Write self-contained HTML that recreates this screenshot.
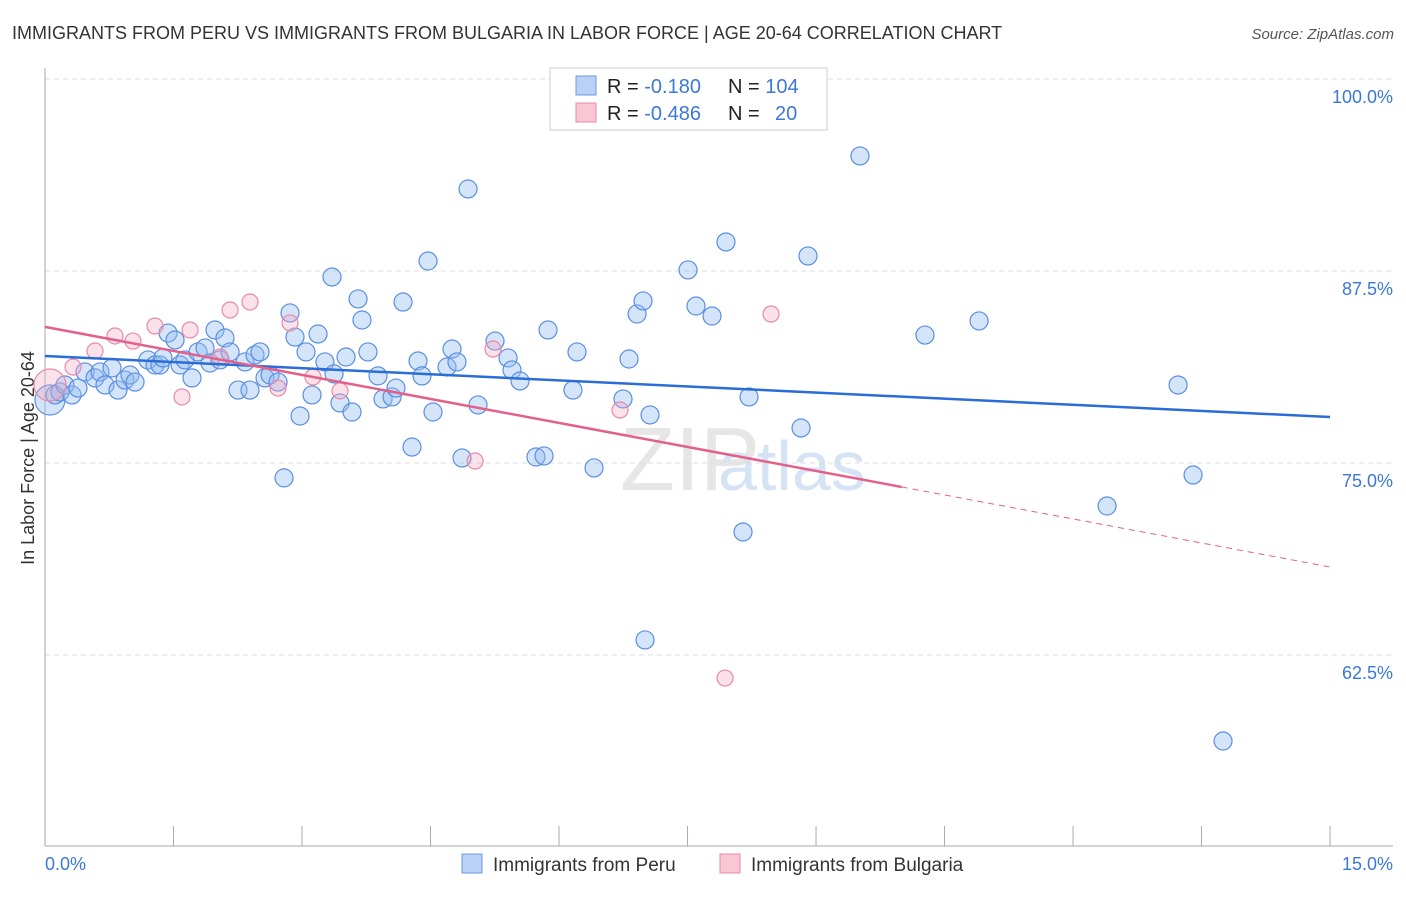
<!DOCTYPE html>
<html><head><meta charset="utf-8"><style>
body{margin:0;background:#fff;font-family:"Liberation Sans",sans-serif;}
svg text{font-family:"Liberation Sans",sans-serif;}
</style></head><body>
<svg id="c" width="1406" height="892">
<text x="12" y="39" font-size="18" fill="#333">IMMIGRANTS FROM PERU VS IMMIGRANTS FROM BULGARIA IN LABOR FORCE | AGE 20-64 CORRELATION CHART</text>
<text x="1394" y="39" font-size="15" fill="#555" text-anchor="end" font-style="italic">Source: ZipAtlas.com</text>
<text x="34" y="458" font-size="18" fill="#333" text-anchor="middle" transform="rotate(-90 34 458)">In Labor Force | Age 20-64</text>
<text x="620" y="490" font-size="90" fill="#e6e6e6" font-family="Liberation Serif">ZIP</text>
<text x="718" y="490" font-size="70" fill="#d6e3f5">atlas</text>
<g id="grid"></g><g id="pts"></g><g id="lines"></g>
</svg>
<script>
const xTicks=[0,15];
const yTicks=[100,87.5,75,62.5];
const peruX=[.058,.117,.175,.233,.315,.385,.467,.584,.642,.700,.782,.852,.934,.992,1.051,1.202,1.284,1.342,1.377,1.436,1.518,1.576,1.634,1.716,1.786,1.868,1.926,1.984,2.043,2.101,2.160,2.253,2.335,2.393,2.451,2.510,2.568,2.627,2.720,2.790,2.860,2.918,2.977,3.047,3.117,3.187,3.268,3.350,3.374,3.444,3.514,3.584,3.654,3.700,3.770,3.887,3.946,4.051,4.097,4.179,4.284,4.354,4.401,4.471,4.529,4.693,4.751,4.809,4.868,4.938,5.054,5.253,5.405,5.451,5.545,5.731,5.825,5.872,6.163,6.210,6.409,6.747,6.817,6.911,6.981,7.004,7.062,7.506,7.599,7.786,7.949,8.148,8.218,8.825,8.906,9.513,10.272,10.903,12.397,13.226,13.401,13.751];
const peruY=[79.10,79.43,79.62,80.08,79.43,79.88,80.93,80.54,80.93,80.08,81.19,79.75,80.40,80.73,80.27,81.71,81.38,81.38,81.84,83.46,83.01,81.38,81.71,80.54,82.23,82.49,81.51,83.66,81.71,83.14,82.23,79.75,81.58,79.75,82.03,82.23,80.54,80.73,80.27,74.03,84.77,83.20,78.06,82.23,79.43,83.40,81.58,87.11,80.80,78.91,81.90,78.32,85.68,84.31,82.23,80.67,79.17,79.30,79.88,85.48,76.04,81.64,80.67,88.15,78.32,81.25,82.42,81.58,75.33,92.84,78.78,82.94,81.84,81.06,80.34,75.39,75.46,83.66,79.75,82.23,74.68,79.17,81.77,84.70,85.55,63.48,78.13,87.57,85.22,84.57,89.39,70.51,79.30,77.28,88.48,94.99,83.33,84.25,72.20,80.08,74.22,56.90];
const bulgX=[.058,.327,.584,.817,1.027,1.284,1.599,1.693,2.043,2.160,2.393,2.720,2.860,3.128,3.444,5.230,5.020,6.712,7.938,8.475];
const bulgY=[80.08,81.25,82.29,83.27,82.94,83.92,79.30,83.66,81.90,84.96,85.48,79.88,84.12,80.60,79.69,82.42,75.13,78.45,61.0,84.70];
const peruTrend=[81.97,-0.265];
const bulgTrend=[83.86,-1.042];
const X=v=>45+v*85.67, Y=v=>79+(100-v)*15.36;
const NS="http://www.w3.org/2000/svg";
function mk(parent,tag,attrs){const e=document.createElementNS(NS,tag);for(const k in attrs)e.setAttribute(k,attrs[k]);document.getElementById(parent).appendChild(e);return e;}
yTicks.forEach(t=>{
 const l=mk('grid','line',{x1:45,x2:1393,y1:Y(t),y2:Y(t),stroke:'#ddd','stroke-dasharray':'5,4'});
 
 
 const tx=mk('grid','text',{x:1393,y:Y(t)+24,'font-size':18,fill:'#3b78d8','text-anchor':'end'});
 tx.textContent=t.toFixed(1)+'%';
 
 
});
const ax=mk('grid','line',{x1:45,x2:45,y1:68,y2:846,stroke:'#aaa'});


const bx=mk('grid','line',{x1:45,x2:1393,y1:846,y2:846,stroke:'#aaa'});


for(let i=0;i<=10;i++){const t=mk('grid','line',{x1:X(i*1.5),x2:X(i*1.5),y1:826,y2:846,stroke:'#aaa'});
 
 }
xTicks.forEach((t,i)=>{const tx=mk('grid','text',{x:i?1393:45,y:870,'font-size':18,fill:'#3b78d8','text-anchor':i?'end':'start'});
 tx.textContent=t.toFixed(1)+'%';
 
 });
peruX.forEach((v,i)=>{const c=mk('pts','circle',{cx:X(v),cy:Y(peruY[i]),r:i==0?15:9,fill:'rgba(147,187,240,0.4)',stroke:'#5b8fe0','stroke-width':1.2});
 
 });
bulgX.forEach((v,i)=>{const c=mk('pts','circle',{cx:X(v),cy:Y(bulgY[i]),r:i==0?16:8,fill:'rgba(244,170,195,0.35)',stroke:'#e88aa8','stroke-width':1.2});
 
 });
const pl=mk('lines','line',{x1:X(0),x2:X(15),y1:Y(peruTrend[0]),y2:Y(peruTrend[0]+15*peruTrend[1]),stroke:'#2a6dd6','stroke-width':2.5});


const bl=mk('lines','line',{x1:X(0),x2:X(10),y1:Y(bulgTrend[0]),y2:Y(bulgTrend[0]+10*bulgTrend[1]),stroke:'#e2608a','stroke-width':2.5});


const bd=mk('lines','line',{x1:X(10),x2:X(15),y1:Y(bulgTrend[0]+10*bulgTrend[1]),y2:Y(bulgTrend[0]+15*bulgTrend[1]),stroke:'#e2608a','stroke-width':1,'stroke-dasharray':'6,5'});


</script>
<svg style="position:absolute;left:0;top:0" width="1406" height="892">
<g>
<rect x="550" y="68" width="277" height="62" fill="#fff" stroke="#ccc"/>
<rect x="576" y="76" width="20" height="19" fill="#b8d1f5" stroke="#6b9be0"/>
<rect x="576" y="103" width="20" height="19" fill="#f9c6d6" stroke="#e88aa8"/>
<text x="607" y="93" font-size="20" fill="#222">R = <tspan fill="#3b78d8">-0.180</tspan><tspan x="728">N = </tspan><tspan fill="#3b78d8">104</tspan></text>
<text x="607" y="120" font-size="20" fill="#222">R = <tspan fill="#3b78d8">-0.486</tspan><tspan x="728">N = </tspan><tspan fill="#3b78d8" x="775">20</tspan></text>
</g>
<g>
<rect x="462" y="854" width="20" height="19" fill="#b8d1f5" stroke="#6b9be0"/>
<text x="493" y="871" font-size="19" fill="#333">Immigrants from Peru</text>
<rect x="720" y="854" width="20" height="19" fill="#f9c6d6" stroke="#e88aa8"/>
<text x="751" y="871" font-size="19" fill="#333">Immigrants from Bulgaria</text>
</g>
</svg>
</body></html>
